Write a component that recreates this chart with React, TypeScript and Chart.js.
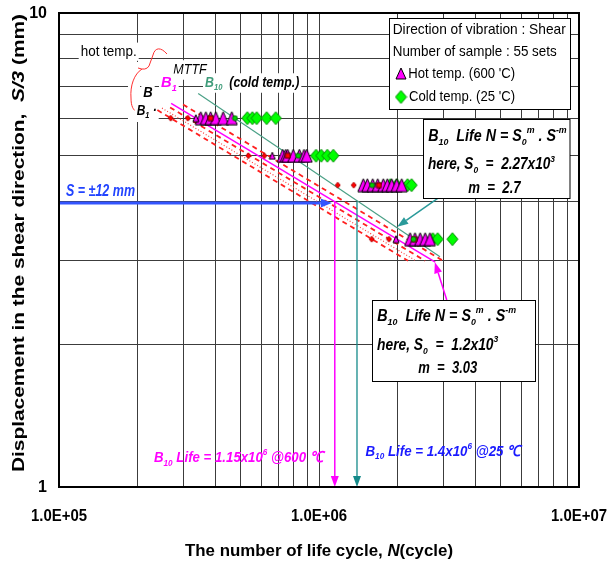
import React, { useEffect, useRef } from "react";
import { Chart, registerables } from "chart.js";
Chart.register(...registerables);

// ---------------- axis / ticks ----------------
const xTickValues = [1e5, 1e6, 1e7];
const xTickLabels = ["1.0E+05", "1.0E+06", "1.0E+07"];
const yTickValues = [1, 10];
const yTickLabels = ["1", "10"];

// ---------------- displacement levels S/3 (mm)  (S = 18, 15, 13, 10 mm) ----------------
const levels = [6, 5, 13 / 3, 10 / 3];

// hot temp. (600 'C) test results, life N per level
const hot1 = [3.51e5, 3.67e5, 3.83e5, 4.01e5, 4.28e5, 4.62e5];
const hot2 = [7.25e5, 7.45e5, 7.58e5, 7.96e5, 8.4e5, 8.76e5, 8.97e5];
const hot3 = [1.48e6, 1.534e6, 1.609e6, 1.682e6, 1.767e6, 1.831e6, 1.904e6, 1.99e6, 2.08e6];
const hot4 = [2.24e6, 2.34e6, 2.45e6, 2.56e6, 2.67e6];

// cold temp. (25 'C) test results
const cold1 = [5.3e5, 5.54e5, 5.76e5, 6.29e5, 6.82e5];
const cold2 = [9.74e5, 1.02e6, 1.076e6, 1.135e6];
const cold3 = [1.88e6, 1.99e6, 2.19e6, 2.27e6];
const cold4 = [2.74e6, 2.86e6, 3.26e6];

// small red diamonds (lower bound estimates) : N and level index
const redEstN = [2.69e5, 3.13e5, 5.35e5, 6.16e5, 1.18e6, 1.36e6, 1.595e6, 1.858e6];
const redEstLevel = [0, 0, 1, 1, 2, 2, 3, 3];
// red squares (MTTF)
const mttfN = [3.83e5, 7.58e5, 1.7e6, 2.32e6];
const mttfLevel = [0, 1, 2, 3];
// small magenta triangles (hot B10 estimate)
const hotB10EstN = [3.36e5, 6.61e5, 1.978e6];
const hotB10EstLevel = [0, 1, 3];
// small green dots (cold B10 estimate)
const coldB10EstN = [4.75e5, 8.32e5, 1.6e6, 2.31e6];
const coldB10EstLevel = [0, 1, 2, 3];

// life lines  [N, S/3]
const hotB10Line = [[2.7e5, 6.45], [2.8e6, 2.98]];
const hotUpperLine = [[3.0e5, 6.41], [3.0e6, 3.0]];
const hotLowerLineA = [[2.675e5, 6.32], [2.56e6, 3.0]];
const hotLowerDotLine = [[2.49e5, 6.3], [2.36e6, 3.0]];
const hotLowerLineB = [[2.39e5, 6.24], [2.2e6, 3.0]];
const coldB10Line = [[3.43e5, 6.76], [2.92e6, 3.06]];

// B10 life results
const sLevel12 = 4; // S = 12 mm -> S/3 = 4
const hotB10Life = 1.15e6;
const coldB10Life = 1.4e6;

const FONT = "'Liberation Sans', Arial, Helvetica, sans-serif";

type Seg = { t: string; sub?: boolean; sup?: boolean; color?: string; italic?: boolean };
type TOpt = {
  size: number;
  bold?: boolean;
  italic?: boolean;
  color: string;
  fit?: number;
  align?: "left" | "center" | "right";
  bg?: boolean;
};

function fontOf(o: TOpt, s: Seg) {
  const sz = s.sub || s.sup ? o.size * 0.62 : o.size;
  const it = s.italic ?? o.italic;
  return `${it ? "italic " : ""}${o.bold ? "bold " : ""}${sz}px ${FONT}`;
}

function drawText(ctx: CanvasRenderingContext2D, segs: Seg[], x: number, y: number, o: TOpt) {
  ctx.save();
  let total = 0;
  const ws = segs.map((s) => {
    ctx.font = fontOf(o, s);
    const w = ctx.measureText(s.t).width;
    total += w;
    return w;
  });
  const sx = o.fit ? o.fit / total : 1;
  const W = total * sx;
  const x0 = o.align === "center" ? x - W / 2 : o.align === "right" ? x - W : x;
  if (o.bg) {
    ctx.fillStyle = "#fff";
    ctx.fillRect(x0 - 2, y - o.size * 0.65, W + 4, o.size * 1.3);
  }
  ctx.translate(x0, y);
  ctx.scale(sx, 1);
  ctx.textBaseline = "middle";
  ctx.textAlign = "left";
  let cx = 0;
  segs.forEach((s, i) => {
    ctx.font = fontOf(o, s);
    ctx.fillStyle = s.color ?? o.color;
    const dy = s.sub ? o.size * 0.32 : s.sup ? -o.size * 0.38 : 0;
    ctx.fillText(s.t, cx, dy);
    cx += ws[i];
  });
  ctx.restore();
}

function arrow(
  ctx: CanvasRenderingContext2D,
  x1: number, y1: number, x2: number, y2: number,
  color: string, lw: number, hl: number, hw: number
) {
  const a = Math.atan2(y2 - y1, x2 - x1);
  const bx = x2 - Math.cos(a) * hl;
  const by = y2 - Math.sin(a) * hl;
  ctx.save();
  ctx.strokeStyle = color;
  ctx.fillStyle = color;
  ctx.lineWidth = lw;
  ctx.beginPath();
  ctx.moveTo(x1, y1);
  ctx.lineTo(bx, by);
  ctx.stroke();
  ctx.beginPath();
  ctx.moveTo(x2, y2);
  ctx.lineTo(bx + (Math.sin(a) * hw) / 2, by - (Math.cos(a) * hw) / 2);
  ctx.lineTo(bx - (Math.sin(a) * hw) / 2, by + (Math.cos(a) * hw) / 2);
  ctx.closePath();
  ctx.fill();
  ctx.restore();
}

function makeMarker(kind: string, w: number, h: number, fill: string, stroke: string) {
  const c = document.createElement("canvas");
  c.width = w + 2;
  c.height = h + 2;
  const g = c.getContext("2d")!;
  g.beginPath();
  if (kind === "tri") {
    g.moveTo(1 + w / 2, 1);
    g.lineTo(1 + w, 1 + h);
    g.lineTo(1, 1 + h);
    g.closePath();
  } else if (kind === "dia") {
    g.moveTo(1 + w / 2, 1);
    g.lineTo(1 + w, 1 + h / 2);
    g.lineTo(1 + w / 2, 1 + h);
    g.lineTo(1, 1 + h / 2);
    g.closePath();
  } else if (kind === "sq") {
    g.rect(1, 1, w, h);
  } else {
    g.arc(1 + w / 2, 1 + h / 2, w / 2, 0, Math.PI * 2);
  }
  g.fillStyle = fill;
  g.fill();
  g.lineWidth = 1;
  g.strokeStyle = stroke;
  g.stroke();
  return c;
}

const pts = (ns: number[], y: number) => ns.map((x) => ({ x, y }));
const ptsIdx = (ns: number[], idx: number[]) => ns.map((x, i) => ({ x, y: levels[idx[i]] }));
const linePts = (l: number[][]) => l.map((p) => ({ x: p[0], y: p[1] }));

function logGrid(min: number, max: number) {
  const out: { value: number }[] = [];
  for (let e = Math.round(Math.log10(min)); e < Math.round(Math.log10(max)); e++) {
    for (let k = 1; k < 10; k++) out.push({ value: k * Math.pow(10, e) });
  }
  out.push({ value: max });
  return out;
}

export default function App() {
  const ref = useRef<HTMLCanvasElement | null>(null);

  useEffect(() => {
    if (!ref.current) return;
    const triBig = makeMarker("tri", 11, 13, "#ff00ff", "#000000");
    const diaBig = makeMarker("dia", 11, 13, "#00ff00", "#008a00");
    const triLegend = makeMarker("tri", 10, 11, "#ff00ff", "#000000");
    const diaLegend = makeMarker("dia", 11, 13, "#00ff00", "#008a00");
    const redDia = makeMarker("dia", 5, 6, "#ff0000", "#b00000");
    const redSq = makeMarker("sq", 5, 5, "#ff0000", "#500000");
    const triSmall = makeMarker("tri", 6, 7, "#ff00ff", "#000000");
    const greenDot = makeMarker("circ", 5, 5, "#00d000", "#007000");

    const lineDs = (label: string, l: number[][], color: string, width: number, dash: number[]) => ({
      label,
      data: linePts(l),
      showLine: true,
      borderColor: color,
      borderWidth: width,
      borderDash: dash,
      pointRadius: 0,
      fill: false,
      order: 10,
    });
    const markDs = (label: string, data: { x: number; y: number }[], img: HTMLCanvasElement, order: number) => ({
      label,
      data,
      showLine: false,
      pointStyle: img,
      pointRadius: 6,
      order,
    });

    const decor = {
      id: "decor",
      beforeDatasetsDraw(chart: any) {
        const ctx: CanvasRenderingContext2D = chart.ctx;
        // labels with white background (over grid)
        drawText(ctx, [{ t: "hot temp." }], 80.7, 51.7, { size: 14, color: "#000", fit: 56, bg: true });
        // brace
        ctx.save();
        ctx.fillStyle = "#fff";
        ctx.fillRect(128, 62, 12, 60);
        ctx.strokeStyle = "#ff3030";
        ctx.lineWidth = 1;
        ctx.beginPath();
        ctx.moveTo(167, 54);
        ctx.bezierCurveTo(161, 47, 155, 47, 153, 55);
        ctx.lineTo(149, 66);
        ctx.quadraticCurveTo(146, 71, 138, 68);
        ctx.moveTo(142, 69);
        ctx.bezierCurveTo(134, 74, 130, 86, 131, 98);
        ctx.bezierCurveTo(131, 106, 133, 110, 137, 112);
        ctx.stroke();
        ctx.restore();
        drawText(ctx, [{ t: "MTTF" }], 173.3, 70, { size: 15, italic: true, color: "#000", fit: 33.4, bg: true });
        drawText(ctx, [{ t: "B" }, { t: "1", sub: true }], 161, 83.3, {
          size: 15, italic: true, bold: true, color: "#ff00ff", fit: 15.7, bg: true,
        });
        drawText(
          ctx,
          [{ t: "B", color: "#3f9c7a" }, { t: "10", sub: true, color: "#3f9c7a" }, { t: "  (cold temp.)" }],
          205, 83, { size: 15, italic: true, bold: true, color: "#000", fit: 94.3, bg: true }
        );
        drawText(ctx, [{ t: "B" }], 143.3, 93.3, { size: 15, italic: true, bold: true, color: "#000", fit: 9.4, bg: true });
        drawText(ctx, [{ t: "B" }, { t: "1", sub: true }, { t: " ·" }], 136.7, 110.5, {
          size: 15, italic: true, bold: true, color: "#000", fit: 20, bg: true,
        });
      },
      afterDatasetsDraw(chart: any) {
        const ctx: CanvasRenderingContext2D = chart.ctx;
        const xs = chart.scales.x;
        const ys = chart.scales.y;
        const ca = chart.chartArea;
        const X = (v: number) => xs.getPixelForValue(v);
        const Y = (v: number) => ys.getPixelForValue(v);

        // S = 12 mm arrow and B10 life verticals
        arrow(ctx, ca.left, Y(sLevel12) + 1.5, X(1.12e6), Y(sLevel12) + 1.5, "#3355ff", 3, 11, 9);
        drawText(ctx, [{ t: "S = ±12 mm" }], 66, 191.7, { size: 16, italic: true, bold: true, color: "#2244ff", fit: 69 });
        arrow(ctx, X(hotB10Life), Y(sLevel12), X(hotB10Life), ca.bottom, "#ff00ff", 1.5, 11, 8);
        arrow(ctx, X(coldB10Life), Y(sLevel12), X(coldB10Life), ca.bottom, "#158a8a", 1.3, 11, 8);

        // bottom labels
        drawText(
          ctx,
          [{ t: "B" }, { t: "10", sub: true }, { t: " Life = 1.15x10" }, { t: "6", sup: true }, { t: " @600 ℃" }],
          154, 458.3, { size: 15, italic: true, bold: true, color: "#ff00ff", fit: 169 }
        );
        drawText(
          ctx,
          [{ t: "B" }, { t: "10", sub: true }, { t: " Life = 1.4x10" }, { t: "6", sup: true }, { t: " @25 ℃" }],
          365.5, 451.7, { size: 15, italic: true, bold: true, color: "#1a1aff", fit: 155 }
        );

        // legend box
        ctx.save();
        ctx.fillStyle = "#fff";
        ctx.strokeStyle = "#000";
        ctx.lineWidth = 1;
        ctx.fillRect(389.5, 18.5, 181, 91);
        ctx.strokeRect(389.5, 18.5, 181, 91);
        ctx.restore();
        drawText(ctx, [{ t: "Direction of vibration : Shear" }], 392.7, 30, { size: 15, color: "#000", fit: 173 });
        drawText(ctx, [{ t: "Number of sample : 55 sets" }], 392.7, 52.3, { size: 15, color: "#000", fit: 164 });
        ctx.drawImage(triLegend, 395, 67);
        drawText(ctx, [{ t: "Hot temp. (600 'C)" }], 408.3, 74, { size: 15, color: "#000", fit: 106.7 });
        ctx.drawImage(diaLegend, 394.5, 89.5);
        drawText(ctx, [{ t: "Cold temp. (25 'C)" }], 409, 96.5, { size: 15, color: "#000", fit: 106 });

        // annotation box 1 (cold)
        arrow(ctx, X(2.87e6), Y(4.07), X(2.0e6), Y(3.54), "#2a9a9a", 1.5, 11, 8);
        ctx.save();
        ctx.fillStyle = "#fff";
        ctx.strokeStyle = "#000";
        ctx.fillRect(423.5, 119.5, 146.5, 79);
        ctx.strokeRect(423.5, 119.5, 146.5, 79);
        ctx.restore();
        const bo = { size: 16, italic: true, bold: true, color: "#000" };
        drawText(
          ctx,
          [{ t: "B" }, { t: "10", sub: true }, { t: "  Life N = S" }, { t: "0", sub: true }, { t: "m", sup: true }, { t: " . S" }, { t: "-m", sup: true }],
          428.3, 136.7, { ...bo, fit: 138.4 }
        );
        drawText(ctx, [{ t: "here, S" }, { t: "0", sub: true }, { t: "  =  2.27x10" }, { t: "3", sup: true }], 428, 165, { ...bo, fit: 127 });
        drawText(ctx, [{ t: "m  =  2.7" }], 468.3, 188.3, { ...bo, fit: 52.4 });

        // annotation box 2 (hot)
        arrow(ctx, X(3.1e6), Y(2.48), X(2.79e6), Y(2.98), "#ff00ff", 1.5, 11, 8);
        ctx.save();
        ctx.fillStyle = "#fff";
        ctx.strokeStyle = "#000";
        ctx.fillRect(372.5, 300.5, 163, 81);
        ctx.strokeRect(372.5, 300.5, 163, 81);
        ctx.restore();
        drawText(
          ctx,
          [{ t: "B" }, { t: "10", sub: true }, { t: "  Life N = S" }, { t: "0", sub: true }, { t: "m", sup: true }, { t: " . S" }, { t: "-m", sup: true }],
          377.3, 316.7, { ...bo, fit: 138.7 }
        );
        drawText(ctx, [{ t: "here, S" }, { t: "0", sub: true }, { t: "  =  1.2x10" }, { t: "3", sup: true }], 377, 345.7, { ...bo, fit: 121.3 });
        drawText(ctx, [{ t: "m  =  3.03" }], 418.3, 369, { ...bo, fit: 59 });

        // frame
        ctx.save();
        ctx.strokeStyle = "#000";
        ctx.lineWidth = 2;
        ctx.strokeRect(ca.left, ca.top, ca.right - ca.left, ca.bottom - ca.top);
        ctx.restore();

        // tick labels
        xTickValues.forEach((v, i) => {
          drawText(ctx, [{ t: xTickLabels[i] }], X(v), 516.7, { size: 16, bold: true, color: "#000", align: "center", fit: 56 });
        });
        yTickValues.forEach((v, i) => {
          drawText(ctx, [{ t: yTickLabels[i] }], 47, Y(v) + 1, { size: 16, bold: true, color: "#000", align: "right" });
        });

        // axis titles
        drawText(
          ctx,
          [{ t: "The number of life cycle, " }, { t: "N", italic: true }, { t: "(cycle)" }],
          319, 551.7, { size: 17, bold: true, color: "#000", align: "center", fit: 268 }
        );
        ctx.save();
        ctx.translate(19, 243);
        ctx.rotate(-Math.PI / 2);
        drawText(
          ctx,
          [{ t: "Displacement in the shear direction,  " }, { t: "S/3", italic: true }, { t: " (mm)" }],
          0, 0, { size: 17, bold: true, color: "#000", align: "center", fit: 458 }
        );
        ctx.restore();
      },
    };

    const chart = new Chart(ref.current, {
      type: "scatter",
      data: {
        datasets: [
          markDs("cold B10 est.", ptsIdx(coldB10EstN, coldB10EstLevel), greenDot, 0),
          markDs("MTTF", ptsIdx(mttfN, mttfLevel), redSq, 1),
          markDs("hot B10 est.", ptsIdx(hotB10EstN, hotB10EstLevel), triSmall, 2),
          markDs("lower est.", ptsIdx(redEstN, redEstLevel), redDia, 3),
          markDs("Hot temp. (600 'C)", [...pts(hot1, levels[0]), ...pts(hot2, levels[1]), ...pts(hot3, levels[2]), ...pts(hot4, levels[3])], triBig, 4),
          markDs("Cold temp. (25 'C)", [...pts(cold1, levels[0]), ...pts(cold2, levels[1]), ...pts(cold3, levels[2]), ...pts(cold4, levels[3])], diaBig, 5),
          lineDs("B10 hot", hotB10Line, "#ff00ff", 1.5, []),
          lineDs("upper", hotUpperLine, "#ff2020", 1.8, [5, 4]),
          lineDs("lower A", hotLowerLineA, "#ff2020", 1.8, [5, 4]),
          lineDs("lower dot", hotLowerDotLine, "#ff4040", 1.2, [1, 2]),
          lineDs("lower B", hotLowerLineB, "#ff2020", 1.8, [5, 4]),
          lineDs("B10 cold", coldB10Line, "#4aa086", 1.2, []),
        ] as any,
      },
      options: {
        responsive: false,
        animation: false,
        events: [],
        layout: { padding: { left: 59, right: 30, top: 13, bottom: 78 } },
        plugins: { legend: { display: false }, tooltip: { enabled: false } },
        scales: {
          x: {
            type: "logarithmic",
            min: 1e5,
            max: 1e7,
            afterBuildTicks: (s: any) => { s.ticks = logGrid(1e5, 1e7); },
            ticks: { display: false },
            grid: { color: "#3c3c3c", lineWidth: 1, drawTicks: false },
            border: { display: false },
          },
          y: {
            type: "logarithmic",
            min: 1,
            max: 10,
            afterBuildTicks: (s: any) => { s.ticks = logGrid(1, 10); },
            ticks: { display: false },
            grid: { color: "#3c3c3c", lineWidth: 1, drawTicks: false },
            border: { display: false },
          },
        },
      } as any,
      plugins: [decor],
    });
    return () => chart.destroy();
  }, []);

  return (
    <div style={{ position: "absolute", left: 0, top: 0, width: 609, height: 565, background: "#fff" }}>
      <canvas ref={ref} width={609} height={565} style={{ display: "block", width: 609, height: 565 }} />
    </div>
  );
}
